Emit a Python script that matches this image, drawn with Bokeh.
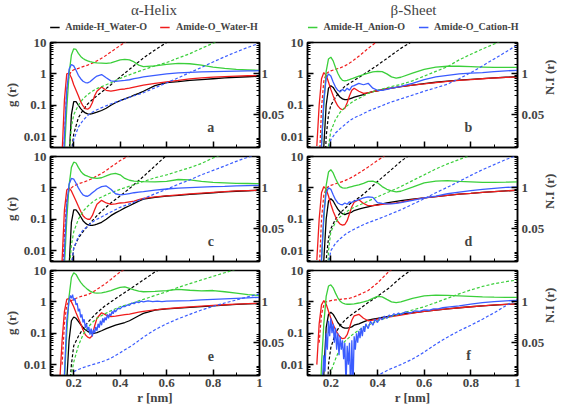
import math
from bokeh.plotting import figure
from bokeh.models import (Range1d, LogAxis, FixedTicker, Legend, LegendItem, Label,
                          PrintfTickFormatter)
from bokeh.layouts import column, row
from bokeh.embed import file_html
from bokeh.resources import INLINE

# ---------------- data ----------------
R = [0.14, 0.15, 0.16, 0.17, 0.18, 0.19, 0.20, 0.21, 0.22, 0.23, 0.24, 0.25, 0.26, 0.27, 0.28,
     0.29, 0.30, 0.32, 0.34, 0.36, 0.38, 0.40, 0.42, 0.44, 0.46, 0.48, 0.50, 0.55, 0.60, 0.65,
     0.70, 0.75, 0.80, 0.85, 0.90, 0.95, 1.00]
RD = [0.15, 0.16, 0.17, 0.18, 0.19, 0.20, 0.22, 0.24, 0.26, 0.28, 0.30, 0.33, 0.36, 0.40, 0.45,
      0.50, 0.55, 0.60, 0.65, 0.70, 0.75, 0.80, 0.85, 0.90, 0.95, 1.00]

# panel a : alpha-helix (top)
A_BLACK = [1e-4, 1e-4, 1e-4, 1e-4, 0.002, 0.05, 0.13, 0.13, 0.10, 0.078, 0.065, 0.057, 0.053, 0.052, 0.054, 0.057, 0.060, 0.068, 0.080, 0.100, 0.120, 0.140, 0.160, 0.180, 0.210, 0.240, 0.280, 0.420, 0.530, 0.570, 0.620, 0.660, 0.700, 0.740, 0.780, 0.810, 0.840]
A_RED = [1e-4, 0.003, 0.15, 1.0, 1.05, 0.75, 0.45, 0.30, 0.20, 0.13, 0.095, 0.078, 0.075, 0.085, 0.12, 0.20, 0.28, 0.38, 0.30, 0.28, 0.30, 0.32, 0.33, 0.35, 0.38, 0.41, 0.44, 0.50, 0.56, 0.62, 0.69, 0.75, 0.79, 0.82, 0.85, 0.87, 0.88]
A_GREEN = [1e-4, 1e-4, 0.003, 0.08, 1.0, 4.0, 6.3, 6.0, 4.5, 3.6, 3.1, 2.8, 2.6, 2.45, 2.35, 2.3, 2.25, 2.2, 2.15, 2.25, 2.5, 2.8, 2.9, 2.8, 2.4, 1.9, 1.7, 1.8, 2.0, 2.15, 2.1, 1.9, 1.65, 1.5, 1.4, 1.35, 1.3]
A_BLUE = [1e-4, 1e-4, 0.01, 0.3, 1.4, 2.0, 1.8, 1.3, 0.9, 0.7, 0.58, 0.53, 0.52, 0.56, 0.65, 0.75, 0.85, 0.95, 0.75, 0.6, 0.58, 0.6, 0.62, 0.65, 0.7, 0.75, 0.8, 0.9, 1.0, 1.07, 1.12, 1.15, 1.18, 1.2, 1.22, 1.24, 1.26]
A_BLACK_NI = [1e-4, 1e-4, 1e-4, 1e-4, 0.003, 0.012, 0.04, 0.07, 0.11, 0.15, 0.2, 0.3, 0.45, 0.8, 1.6, 3.2, 5.8, 10, 15, 22, 30, 40, 52, 66, 82, 100]
A_RED_NI = [1e-4, 0.01, 0.3, 0.9, 1.2, 1.35, 1.5, 1.7, 1.9, 2.2, 2.6, 3.5, 5.0, 8.0, 14, 22, 32, 45, 60, 80, 100, 125, 150, 180, 210, 250]
A_GREEN_NI = [1e-4, 1e-4, 1e-4, 0.003, 0.02, 0.05, 0.1, 0.16, 0.22, 0.28, 0.34, 0.42, 0.52, 0.72, 1.0, 1.35, 1.8, 2.3, 3.2, 4.4, 6.5, 9.5, 13, 17, 22, 28]
A_BLUE_NI = [1e-4, 1e-4, 1e-4, 1e-4, 0.002, 0.008, 0.02, 0.033, 0.047, 0.06, 0.072, 0.09, 0.11, 0.14, 0.19, 0.25, 0.36, 0.52, 0.75, 1.1, 1.6, 2.4, 3.5, 5.0, 7.0, 9.5]

# panel b : beta-sheet (top)
B_BLACK = [1e-4, 1e-4, 1e-4, 0.005, 0.1, 0.35, 0.42, 0.37, 0.28, 0.22, 0.18, 0.16, 0.15, 0.15, 0.16, 0.17, 0.18, 0.2, 0.22, 0.25, 0.27, 0.29, 0.31, 0.33, 0.35, 0.37, 0.39, 0.44, 0.49, 0.54, 0.59, 0.63, 0.67, 0.71, 0.75, 0.78, 0.81]
B_RED = [0.005, 0.1, 0.7, 1.1, 0.9, 0.55, 0.32, 0.2, 0.13, 0.095, 0.078, 0.072, 0.08, 0.12, 0.2, 0.3, 0.35, 0.28, 0.24, 0.25, 0.27, 0.29, 0.31, 0.33, 0.35, 0.37, 0.39, 0.44, 0.48, 0.53, 0.58, 0.62, 0.66, 0.7, 0.74, 0.77, 0.8]
B_GREEN = [1e-4, 1e-4, 0.005, 0.1, 1.2, 3.0, 3.4, 2.6, 1.6, 1.05, 0.75, 0.62, 0.6, 0.62, 0.66, 0.7, 0.75, 0.85, 0.95, 1.05, 1.15, 1.2, 1.18, 1.0, 0.8, 0.73, 0.78, 1.05, 1.4, 1.65, 1.75, 1.75, 1.7, 1.65, 1.6, 1.6, 1.6]
B_BLUE = [1e-4, 1e-4, 0.005, 0.15, 0.7, 1.0, 0.85, 0.55, 0.38, 0.3, 0.27, 0.32, 0.28, 0.35, 0.3, 0.4, 0.42, 0.5, 0.45, 0.5, 0.35, 0.3, 0.3, 0.32, 0.35, 0.37, 0.4, 0.5, 0.65, 0.8, 0.9, 1.0, 1.05, 1.1, 1.18, 1.25, 1.3]
B_BLACK_NI = [1e-4, 1e-4, 1e-4, 0.01, 0.05, 0.1, 0.18, 0.28, 0.4, 0.5, 0.62, 0.85, 1.2, 1.9, 3.5, 6.5, 11, 17, 25, 34, 45, 58, 72, 88, 105, 125]
B_RED_NI = [0.001, 0.08, 0.6, 1.0, 1.15, 1.25, 1.4, 1.55, 1.8, 2.2, 2.8, 4.2, 6.5, 11, 18, 28, 40, 55, 72, 92, 115, 140, 170, 200, 235, 270]
B_GREEN_NI = [1e-4, 1e-4, 1e-4, 1e-4, 0.005, 0.015, 0.035, 0.06, 0.085, 0.11, 0.14, 0.18, 0.24, 0.3, 0.38, 0.46, 0.6, 0.85, 1.2, 1.7, 2.8, 4.2, 6.2, 9.0, 13, 18]
B_BLUE_NI = [1e-4, 1e-4, 1e-4, 1e-4, 0.003, 0.008, 0.013, 0.018, 0.024, 0.032, 0.04, 0.05, 0.065, 0.085, 0.12, 0.16, 0.21, 0.28, 0.36, 0.47, 0.7, 1.1, 1.8, 3.0, 5.0, 8.5]

# panel c : alpha-helix (middle)
C_BLACK = [1e-4, 1e-4, 1e-4, 1e-4, 0.003, 0.08, 0.2, 0.2, 0.16, 0.12, 0.09, 0.075, 0.067, 0.064, 0.064, 0.066, 0.07, 0.08, 0.1, 0.13, 0.16, 0.19, 0.23, 0.27, 0.32, 0.38, 0.44, 0.5, 0.55, 0.58, 0.62, 0.66, 0.7, 0.74, 0.78, 0.81, 0.84]
C_RED = [1e-4, 0.005, 0.2, 0.85, 1.0, 0.8, 0.55, 0.38, 0.26, 0.18, 0.13, 0.11, 0.1, 0.1, 0.13, 0.2, 0.3, 0.4, 0.33, 0.3, 0.31, 0.33, 0.34, 0.36, 0.38, 0.42, 0.46, 0.52, 0.56, 0.6, 0.64, 0.68, 0.72, 0.76, 0.8, 0.82, 0.84]
C_GREEN = [1e-4, 1e-4, 0.003, 0.1, 1.2, 4.5, 6.6, 6.2, 4.5, 3.4, 2.8, 2.5, 2.35, 2.2, 2.1, 2.05, 2.0, 2.1, 2.4, 2.75, 2.9, 2.6, 2.0, 1.75, 1.65, 1.6, 1.58, 1.55, 1.6, 1.85, 1.8, 1.6, 1.5, 1.45, 1.4, 1.38, 1.36]
C_BLUE = [1e-4, 1e-4, 0.01, 0.3, 1.3, 2.0, 1.9, 1.4, 1.0, 0.75, 0.6, 0.55, 0.54, 0.6, 0.7, 0.8, 0.92, 1.1, 1.15, 0.9, 0.65, 0.6, 0.62, 0.66, 0.7, 0.73, 0.76, 0.85, 0.92, 0.98, 1.02, 1.06, 1.1, 1.12, 1.15, 1.18, 1.2]
C_BLACK_NI = [1e-4, 1e-4, 1e-4, 1e-4, 0.003, 0.012, 0.025, 0.04, 0.06, 0.09, 0.13, 0.21, 0.33, 0.55, 1.1, 2.3, 5.0, 11, 17, 25, 34, 45, 58, 72, 88, 105]
C_RED_NI = [0.001, 0.03, 0.4, 0.85, 1.0, 1.15, 1.35, 1.5, 1.7, 2.0, 2.4, 3.2, 4.6, 7.4, 12, 19, 28, 40, 55, 72, 92, 115, 140, 170, 200, 235]
C_GREEN_NI = [1e-4, 1e-4, 1e-4, 0.002, 0.015, 0.04, 0.1, 0.18, 0.26, 0.35, 0.44, 0.55, 0.7, 0.9, 1.2, 1.6, 2.1, 2.6, 3.4, 4.4, 6.0, 9.0, 12, 16, 21, 27]
C_BLUE_NI = [1e-4, 1e-4, 1e-4, 1e-4, 0.003, 0.012, 0.028, 0.045, 0.06, 0.08, 0.1, 0.13, 0.17, 0.24, 0.33, 0.45, 0.65, 0.9, 1.3, 1.8, 2.6, 3.6, 5.0, 7.0, 9.5, 12]

# panel d : beta-sheet (middle)
D_BLACK = [1e-4, 1e-4, 1e-4, 0.005, 0.1, 0.38, 0.45, 0.38, 0.28, 0.21, 0.17, 0.15, 0.14, 0.15, 0.16, 0.17, 0.19, 0.21, 0.23, 0.25, 0.27, 0.29, 0.31, 0.33, 0.35, 0.37, 0.39, 0.44, 0.48, 0.53, 0.58, 0.63, 0.67, 0.72, 0.76, 0.8, 0.84]
D_RED = [0.005, 0.1, 0.7, 1.1, 0.9, 0.55, 0.3, 0.18, 0.12, 0.085, 0.07, 0.065, 0.068, 0.09, 0.15, 0.25, 0.35, 0.42, 0.32, 0.27, 0.27, 0.28, 0.3, 0.31, 0.32, 0.33, 0.35, 0.42, 0.48, 0.53, 0.58, 0.63, 0.67, 0.72, 0.76, 0.8, 0.85]
D_GREEN = [1e-4, 1e-4, 0.005, 0.1, 1.2, 3.2, 3.8, 3.0, 2.0, 1.4, 1.1, 1.0, 0.98, 1.0, 1.05, 1.1, 1.15, 1.25, 1.4, 1.6, 1.65, 1.45, 1.1, 0.9, 0.8, 0.75, 0.78, 1.05, 1.45, 1.65, 1.7, 1.6, 1.55, 1.5, 1.5, 1.52, 1.55]
D_BLUE = [1e-4, 1e-4, 0.005, 0.15, 0.7, 1.0, 0.9, 0.6, 0.42, 0.33, 0.3, 0.29, 0.33, 0.3, 0.36, 0.34, 0.38, 0.42, 0.48, 0.52, 0.5, 0.34, 0.32, 0.31, 0.31, 0.32, 0.34, 0.4, 0.48, 0.55, 0.65, 0.73, 0.82, 0.9, 0.97, 1.03, 1.08]
D_BLACK_NI = [1e-4, 1e-4, 1e-4, 0.005, 0.025, 0.05, 0.1, 0.16, 0.22, 0.3, 0.38, 0.55, 0.85, 1.6, 3.3, 7.0, 13, 20, 29, 40, 52, 66, 82, 100, 120, 140]
D_RED_NI = [0.002, 0.1, 0.6, 0.95, 1.1, 1.2, 1.35, 1.5, 1.7, 2.0, 2.4, 3.3, 4.6, 7.5, 13, 20, 29, 40, 55, 72, 92, 115, 140, 170, 200, 235]
D_GREEN_NI = [1e-4, 1e-4, 1e-4, 1e-4, 0.01, 0.04, 0.08, 0.12, 0.16, 0.2, 0.24, 0.3, 0.38, 0.52, 0.75, 1.1, 1.7, 2.6, 4.0, 5.8, 8.0, 11, 15, 19, 24, 30]
D_BLUE_NI = [1e-4, 1e-4, 1e-4, 1e-4, 0.004, 0.01, 0.017, 0.024, 0.032, 0.04, 0.048, 0.062, 0.078, 0.1, 0.14, 0.2, 0.3, 0.45, 0.7, 1.05, 1.6, 2.5, 3.8, 5.5, 8.0, 11]

# panel e : alpha-helix (bottom)
E_BLACK = [1e-4, 1e-4, 1e-4, 0.003, 0.06, 0.25, 0.33, 0.3, 0.24, 0.19, 0.15, 0.13, 0.115, 0.105, 0.1, 0.1, 0.105, 0.12, 0.14, 0.16, 0.18, 0.2, 0.22, 0.25, 0.3, 0.36, 0.43, 0.55, 0.6, 0.63, 0.67, 0.71, 0.75, 0.79, 0.83, 0.86, 0.88]
E_RED = [0.003, 0.06, 0.5, 1.2, 1.3, 1.0, 0.7, 0.45, 0.3, 0.2, 0.13, 0.09, 0.075, 0.07, 0.085, 0.17, 0.3, 0.45, 0.38, 0.34, 0.35, 0.37, 0.39, 0.41, 0.44, 0.47, 0.5, 0.56, 0.61, 0.65, 0.69, 0.73, 0.77, 0.81, 0.85, 0.88, 0.9]
E_GREEN = [1e-4, 1e-4, 0.003, 0.1, 1.5, 6.0, 8.5, 7.5, 5.5, 4.2, 3.4, 2.9, 2.5, 2.2, 2.05, 1.95, 1.9, 1.95, 2.1, 2.3, 2.6, 2.9, 3.0, 2.7, 2.4, 2.2, 2.1, 2.15, 2.3, 2.5, 2.35, 2.25, 2.3, 2.1, 1.9, 1.7, 1.6]
E_BLUE_R = [0.15, 0.16, 0.17, 0.18, 0.185, 0.19, 0.195, 0.20, 0.205, 0.21, 0.215, 0.22, 0.225, 0.23,
            0.235, 0.24, 0.245, 0.25, 0.255, 0.26, 0.265, 0.27, 0.275, 0.28, 0.285, 0.29, 0.295, 0.30,
            0.305, 0.31, 0.315, 0.32, 0.325, 0.33, 0.335, 0.34, 0.345, 0.35, 0.355, 0.36, 0.365, 0.37,
            0.375, 0.38, 0.39, 0.40, 0.41, 0.42, 0.43, 0.44, 0.45, 0.46, 0.47, 0.48, 0.49, 0.50, 0.52,
            0.54, 0.56, 0.58, 0.60, 0.65, 0.70, 0.75, 0.80, 0.85, 0.90, 0.95, 1.0]
E_BLUE = [1e-4, 0.005, 0.25, 1.1, 1.6, 1.3, 1.7, 1.1, 1.3, 0.8, 0.9, 0.5, 0.6, 0.32,
          0.4, 0.22, 0.28, 0.15, 0.2, 0.12, 0.16, 0.09, 0.14, 0.08, 0.13, 0.1, 0.16, 0.12,
          0.2, 0.15, 0.25, 0.18, 0.3, 0.22, 0.32, 0.26, 0.4, 0.3, 0.42, 0.36, 0.5, 0.42,
          0.55, 0.48, 0.62, 0.6, 0.72, 0.7, 0.8, 0.78, 0.92, 0.88, 1.0, 0.95, 1.05, 1.0, 1.08,
          1.02, 1.06, 1.02, 1.05, 1.08, 1.1, 1.15, 1.2, 1.25, 1.3, 1.35, 1.4]
E_BLACK_NI = [1e-4, 1e-4, 1e-4, 0.001, 0.01, 0.04, 0.08, 0.14, 0.22, 0.32, 0.45, 0.7, 1.0, 1.6, 2.8, 5.0, 9.0, 14, 20, 28, 38, 50, 64, 80, 98, 118]
E_RED_NI = [0.01, 0.2, 0.8, 1.0, 1.1, 1.2, 1.4, 1.55, 1.7, 2.0, 2.5, 3.5, 5.2, 9.0, 15, 23, 33, 45, 60, 78, 98, 120, 145, 172, 200, 230]
E_GREEN_NI = [1e-4, 1e-4, 1e-4, 0.001, 0.005, 0.012, 0.04, 0.09, 0.15, 0.22, 0.3, 0.4, 0.52, 0.7, 0.9, 1.2, 1.6, 2.1, 2.9, 3.8, 5.0, 6.5, 8.5, 11, 14, 18]
E_BLUE_NI = [1e-4, 1e-4, 1e-4, 1e-4, 1e-4, 0.006, 0.007, 0.008, 0.009, 0.01, 0.011, 0.013, 0.016, 0.024, 0.04, 0.075, 0.13, 0.2, 0.29, 0.4, 0.55, 0.72, 0.92, 1.15, 1.45, 1.8]

# panel f : beta-sheet (bottom)
F_BLACK = [1e-4, 1e-4, 1e-4, 0.005, 0.15, 0.4, 0.47, 0.4, 0.3, 0.22, 0.18, 0.155, 0.145, 0.145, 0.15, 0.16, 0.18, 0.2, 0.23, 0.26, 0.28, 0.3, 0.32, 0.34, 0.36, 0.38, 0.4, 0.45, 0.5, 0.55, 0.6, 0.65, 0.7, 0.75, 0.79, 0.83, 0.86]
F_RED = [0.01, 0.2, 0.8, 1.1, 0.85, 0.5, 0.3, 0.19, 0.13, 0.095, 0.075, 0.067, 0.07, 0.09, 0.15, 0.26, 0.36, 0.4, 0.3, 0.25, 0.26, 0.28, 0.3, 0.32, 0.34, 0.36, 0.38, 0.44, 0.5, 0.55, 0.6, 0.65, 0.7, 0.75, 0.8, 0.83, 0.86]
F_GREEN = [1e-4, 1e-4, 0.01, 0.2, 1.5, 3.2, 3.5, 2.8, 1.9, 1.35, 1.05, 0.92, 0.86, 0.84, 0.84, 0.85, 0.87, 0.92, 1.0, 1.1, 1.3, 1.5, 1.45, 1.2, 1.0, 0.95, 1.0, 1.3, 1.55, 1.65, 1.6, 1.55, 1.5, 1.45, 1.42, 1.4, 1.4]
F_BLUE_R = [0.15, 0.16, 0.17, 0.175, 0.18, 0.185, 0.19, 0.195, 0.20, 0.205, 0.21, 0.215, 0.22,
            0.225, 0.23, 0.235, 0.24, 0.245, 0.25, 0.255, 0.26, 0.265, 0.27, 0.275, 0.28, 0.285,
            0.29, 0.295, 0.30, 0.305, 0.31, 0.315, 0.32, 0.325, 0.33, 0.335, 0.34, 0.345, 0.35,
            0.36, 0.37, 0.38, 0.39, 0.40, 0.41, 0.42, 0.43, 0.44, 0.45, 0.46, 0.47, 0.48, 0.49, 0.50,
            0.52, 0.54, 0.56, 0.58, 0.60, 0.62, 0.64, 0.66, 0.68, 0.70, 0.75, 0.80, 0.85, 0.90, 0.95, 1.0]
F_BLUE = [1e-4, 0.001, 0.02, 0.006, 0.1, 0.03, 0.25, 0.08, 0.3, 0.1, 0.2, 0.05, 0.15,
          0.03, 0.1, 0.02, 0.08, 0.03, 0.06, 0.015, 0.05, 0.002, 0.04, 0.01, 0.05, 0.001,
          0.06, 0.002, 0.08, 0.03, 0.1, 0.05, 0.12, 0.07, 0.15, 0.08, 0.17, 0.11, 0.2,
          0.14, 0.24, 0.18, 0.28, 0.22, 0.32, 0.27, 0.35, 0.3, 0.38, 0.34, 0.42, 0.38, 0.44, 0.4,
          0.48, 0.44, 0.52, 0.5, 0.56, 0.54, 0.6, 0.6, 0.65, 0.68, 0.75, 0.85, 0.95, 1.02, 1.08, 1.12]
F_BLACK_NI = [1e-4, 1e-4, 1e-4, 1e-4, 0.01, 0.035, 0.1, 0.18, 0.26, 0.35, 0.45, 0.65, 0.95, 1.5, 2.8, 6.0, 11, 17, 25, 34, 45, 58, 72, 88, 105, 125]
F_RED_NI = [0.05, 0.4, 0.8, 1.0, 1.05, 1.1, 1.15, 1.2, 1.25, 1.3, 1.45, 1.8, 2.3, 4.0, 9.5, 16, 24, 34, 46, 60, 76, 95, 115, 140, 165, 195]
F_GREEN_NI = [1e-4, 1e-4, 1e-4, 1e-4, 0.002, 0.006, 0.015, 0.035, 0.055, 0.075, 0.1, 0.14, 0.18, 0.25, 0.33, 0.42, 0.55, 0.7, 0.95, 1.3, 1.8, 2.4, 3.1, 3.8, 4.4, 5.0]
F_BLUE_NI = [1e-4, 1e-4, 1e-4, 1e-4, 1e-4, 1e-4, 1e-4, 1e-4, 1e-4, 1e-4, 1e-4, 1e-4, 1e-4, 0.0045, 0.007, 0.01, 0.015, 0.025, 0.045, 0.075, 0.12, 0.18, 0.28, 0.45, 0.75, 1.2]

SERIES_NAMES = ["Amide-H_Water-O", "Amide-O_Water-H", "Amide-H_Anion-O", "Amide-O_Cation-H"]
COLUMN_TITLES = ["\u03b1-Helix", "\u03b2-Sheet"]
PANEL_LETTERS = ["a", "b", "c", "d", "e", "f"]
G_TICKS = [0.01, 0.1, 1, 10]
NI_TICKS = [0.05, 1]
X_TICKS = [0.2, 0.4, 0.6, 0.8, 1.0]
X_MINOR = [0.1, 0.3, 0.5, 0.7, 0.9]
LOG_MINOR = [k * 10.0 ** e for e in range(-3, 1) for k in range(2, 10)]
G_RANGE = (0.0045, 10)
NI_RANGE = (0.0045, 10)
X_RANGE = (0.1, 1.0)
LETTER_POS = (0.79, 0.019)

COLORS = ["#000000", "#f01c1c", "#3bcf3b", "#3a5cff"]
FONT = "Liberation Serif"

PANELS = [
    (R, [A_BLACK, A_RED, A_GREEN, A_BLUE], [A_BLACK_NI, A_RED_NI, A_GREEN_NI, A_BLUE_NI], R),
    (R, [B_BLACK, B_RED, B_GREEN, B_BLUE], [B_BLACK_NI, B_RED_NI, B_GREEN_NI, B_BLUE_NI], R),
    (R, [C_BLACK, C_RED, C_GREEN, C_BLUE], [C_BLACK_NI, C_RED_NI, C_GREEN_NI, C_BLUE_NI], R),
    (R, [D_BLACK, D_RED, D_GREEN, D_BLUE], [D_BLACK_NI, D_RED_NI, D_GREEN_NI, D_BLUE_NI], R),
    (R, [E_BLACK, E_RED, E_GREEN, E_BLUE], [E_BLACK_NI, E_RED_NI, E_GREEN_NI, E_BLUE_NI], E_BLUE_R),
    (R, [F_BLACK, F_RED, F_GREEN, F_BLUE], [F_BLACK_NI, F_RED_NI, F_GREEN_NI, F_BLUE_NI], F_BLUE_R),
]
for _r, sol, das, rb in PANELS:
    for s in sol[:3]:
        assert len(s) == len(_r), len(s)
    assert len(sol[3]) == len(rb), (len(sol[3]), len(rb))
    for s in das:
        assert len(s) == len(RD), len(s)

# ---------------- layout sizes (page has no margin) ----------------
COL_W = [287, 290]
OVERLAP = 10                      # right column slides over the left column's right labels
BORDER_LR = [(45, 25), (28, 46)]
HEADER_W = [277, 290]
HEADER_BORDER = [(45, 15), (28, 46)]
HEADER_H = 35
ROW_H = [114, 114, 145]
BORDER_TB = [(7, 2), (7, 2), (7, 33)]
NAN = float("nan")


def style_axis(ax, show_labels=True, size="13px", standoff=4):
    ax.major_tick_in = 6
    ax.major_tick_out = 0
    ax.minor_tick_in = 3
    ax.minor_tick_out = 0
    ax.axis_line_width = 1.5
    ax.major_tick_line_width = 1.5
    ax.minor_tick_line_width = 1
    ax.major_label_text_font = FONT
    ax.major_label_text_font_style = "bold"
    ax.major_label_text_font_size = size
    if not show_labels:
        ax.major_label_text_color = None
    ax.major_label_standoff = standoff if show_labels else 0
    ax.axis_label_text_font = FONT
    ax.axis_label_text_font_style = "bold"
    ax.axis_label_text_font_size = "13px"
    ax.axis_label_standoff = 2


def make_header(col):
    bl, br = HEADER_BORDER[col]
    h = figure(width=HEADER_W[col], height=HEADER_H, x_range=Range1d(0, 1), y_range=Range1d(0, 1),
               output_backend="svg", toolbar_location=None, min_border_left=bl,
               min_border_right=br, min_border_top=0, min_border_bottom=0)
    h.axis.visible = False
    h.grid.visible = False
    h.outline_line_color = None
    h.border_fill_color = "white"
    items = []
    for j in range(2):
        k = 2 * col + j
        rend = h.line([NAN], [NAN], line_color=COLORS[k], line_width=1.3)
        items.append(LegendItem(label=SERIES_NAMES[k], renderers=[rend]))
    leg = Legend(items=items, orientation="horizontal", location="bottom_center",
                 label_text_font=FONT, label_text_font_style="bold",
                 label_text_font_size="10px", glyph_width=10, glyph_height=10,
                 label_height=10, label_width=10, label_standoff=6, spacing=13, padding=0,
                 margin=3, border_line_alpha=0, background_fill_alpha=0)
    h.add_layout(leg, "center")
    h.add_layout(Label(x=0.5, y=0.72, text=COLUMN_TITLES[col], text_font=FONT,
                       text_font_size="15px", text_align="center", text_baseline="middle"))
    return h


def make_panel(idx):
    rrow, col = divmod(idx, 2)
    rgrid, solids, dashes, rblue = PANELS[idx]
    bl, br = BORDER_LR[col]
    bt, bb = BORDER_TB[rrow]
    kw = {}
    if col == 1:
        kw["margin"] = (0, 0, 0, -OVERLAP)
    p = figure(width=COL_W[col], height=ROW_H[rrow], x_range=Range1d(*X_RANGE),
               y_range=Range1d(*G_RANGE), y_axis_type="log", output_backend="svg",
               toolbar_location=None, min_border_left=bl, min_border_right=br,
               min_border_top=bt, min_border_bottom=bb, **kw)
    p.extra_y_ranges = {"ni": Range1d(*NI_RANGE)}
    p.grid.visible = False
    p.outline_line_color = "black"
    p.outline_line_width = 1.5
    if col == 1:
        p.border_fill_alpha = 0
    else:
        p.border_fill_color = "white"

    xa = p.xaxis[0]
    xa.ticker = FixedTicker(ticks=X_TICKS, minor_ticks=X_MINOR)
    xa.formatter = PrintfTickFormatter(format="%g")
    style_axis(xa, show_labels=(rrow == 2), size="13px", standoff=3)
    if rrow == 2:
        xa.axis_label = "r [nm]"
        xa.axis_label_standoff = 0

    ya = p.yaxis[0]
    ya.ticker = FixedTicker(ticks=G_TICKS, minor_ticks=LOG_MINOR)
    ya.formatter = PrintfTickFormatter(format="%g")
    style_axis(ya)
    if col == 0:
        ya.axis_label = "g (r)"

    ra = LogAxis(y_range_name="ni", ticker=FixedTicker(ticks=NI_TICKS, minor_ticks=LOG_MINOR),
                 formatter=PrintfTickFormatter(format="%g"))
    style_axis(ra, standoff=(2 if col == 0 else 4))
    if col == 1:
        ra.axis_label = "N.I (r)"
        if "axis_label_orientation" in ra.properties():
            ra.axis_label_orientation = math.pi / 2
    p.add_layout(ra, "right")

    for k in range(4):
        rx = rblue if k == 3 else rgrid
        p.line(rx, solids[k], line_color=COLORS[k], line_width=1.3)
        p.line(RD, dashes[k], line_color=COLORS[k], line_width=1.2, line_dash="3 2",
               y_range_name="ni")

    p.add_layout(Label(x=LETTER_POS[0], y=LETTER_POS[1], text=PANEL_LETTERS[idx], text_font=FONT,
                       text_font_style="bold", text_font_size="14px", text_align="center",
                       text_baseline="middle"))
    return p


headers = [make_header(0), make_header(1)]
panels = [make_panel(i) for i in range(6)]
layout = column(row(headers[0], headers[1]),
                row(panels[0], panels[1]), row(panels[2], panels[3]), row(panels[4], panels[5]))
open("out.html", "w").write(file_html(layout, INLINE))
